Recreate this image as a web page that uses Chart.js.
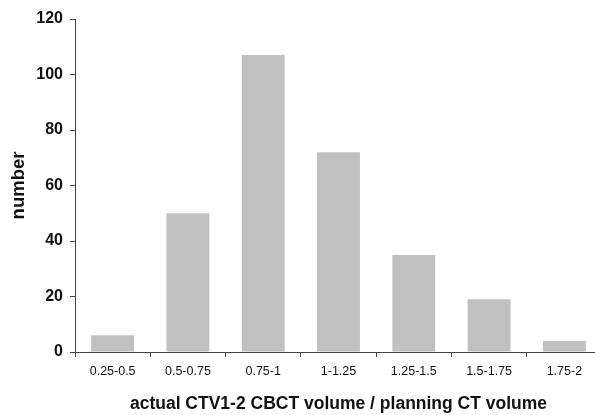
<!DOCTYPE html>
<html>
<head>
<meta charset="utf-8">
<script src="https://cdn.jsdelivr.net/npm/chart.js@4"></script>
<style>
  html, body { margin: 0; padding: 0; background: #fff; overflow: hidden; }
  #wrap { width: 595px; height: 415px; overflow: hidden; }
</style>
</head>
<body>
<div id="wrap"><canvas id="myChart" width="610" height="415"></canvas></div>
<script>
const ranges = ['0.25-0.5', '0.5-0.75', '0.75-1', '1-1.25', '1.25-1.5', '1.5-1.75', '1.75-2'];
const counts = [6, 50, 107, 72, 35, 19, 4];
const yTicks = [0, 20, 40, 60, 80, 100, 120];

const ctx = document.getElementById('myChart');

const myChart = new Chart(ctx, {
    type: 'bar',
    data: {
        labels: ranges,
        datasets: [{
            label: 'number',
            data: counts,
            backgroundColor: '#c0c0c0',
            borderWidth: 0,
            categoryPercentage: 1,
            barPercentage: 0.57
        }]
    },
    options: {
        responsive: false,
        animation: false,
        layout: { padding: { left: 0, top: 19, right: 8, bottom: 0 } },
        plugins: {
            legend: { display: false },
            tooltip: { enabled: false }
        },
        scales: {
            x: {
                grid: { offset: true, drawOnChartArea: false, tickLength: 5, color: '#444' },
                border: { color: '#444', width: 1 },
                ticks: {
                    color: '#111',
                    padding: 7,
                    maxRotation: 0,
                    font: { family: 'Liberation Sans, Arial', size: 12.5 }
                },
                title: {
                    display: true,
                    text: 'actual CTV1-2 CBCT volume / planning CT volume',
                    color: '#111',
                    padding: 0,
                    font: { family: 'Liberation Sans, Arial', size: 17.5, weight: 'bold' }
                },
                afterFit: function (scale) { scale.height = 63; }
            },
            y: {
                min: 0,
                max: 120,
                afterBuildTicks: function (scale) {
                    scale.ticks = yTicks.map(v => ({ value: v }));
                },
                grid: { drawOnChartArea: false, tickLength: 5, color: '#444' },
                border: { color: '#444', width: 1 },
                ticks: {
                    color: '#111',
                    padding: 7,
                    font: { family: 'Liberation Sans, Arial', size: 16, weight: 'bold' }
                },
                title: {
                    display: true,
                    text: 'number',
                    color: '#111',
                    padding: { top: 8, bottom: 0 },
                    font: { family: 'Liberation Sans, Arial', size: 18.5, weight: 'bold' }
                },
                afterFit: function (scale) { scale.width = 75; }
            }
        }
    }
});
</script>
</body>
</html>
